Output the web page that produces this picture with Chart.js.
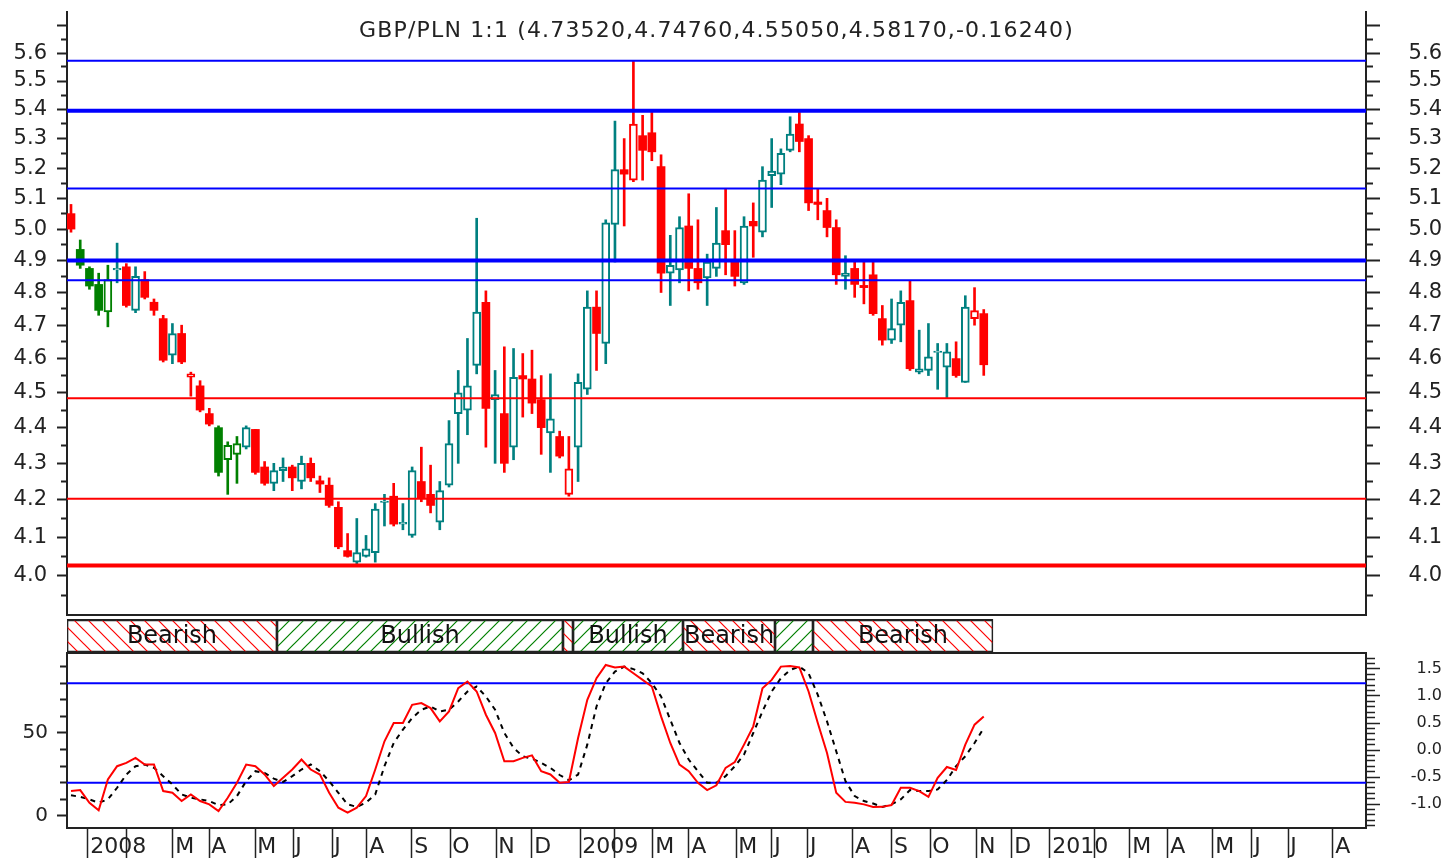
<!DOCTYPE html>
<html>
<head>
<meta charset="utf-8">
<title>GBP/PLN weekly</title>
<script src="https://cdn.jsdelivr.net/npm/chart.js@4.4.0/dist/chart.umd.min.js"></script>
<style>
  html, body { margin: 0; padding: 0; background: #fff; }
  #wrap { position: relative; width: 1447px; height: 858px; overflow: hidden; }
  canvas { position: absolute; left: 0; }
</style>
</head>
<body>
<div id="wrap">
  <canvas id="priceChart" width="1447" height="618" style="top:0"></canvas>
  <canvas id="regimeChart" width="1447" height="37" style="top:616px"></canvas>
  <canvas id="oscChart" width="1447" height="206" style="top:652px"></canvas>
</div>
<script>
// weekly candles, Jan 2008 - Nov 2009
const opens = [5.05, 4.935, 4.875, 4.825, 4.74, 4.87, 4.88, 4.745, 4.84, 4.77,
  4.72, 4.61, 4.675, 4.545, 4.52, 4.44, 4.40, 4.31, 4.325, 4.345,
  4.395, 4.29, 4.245, 4.28, 4.29, 4.25, 4.30, 4.252, 4.24, 4.18,
  4.065, 4.035, 4.05, 4.06, 4.193, 4.21, 4.135, 4.105, 4.25, 4.215,
  4.14, 4.24, 4.44, 4.45, 4.58, 4.77, 4.48, 4.44, 4.345, 4.55,
  4.54, 4.48, 4.385, 4.375, 4.215, 4.345, 4.51, 4.755, 4.645, 5.015,
  5.195, 5.16, 5.31, 5.32, 5.205, 4.86, 4.87, 5.01, 4.875, 4.845,
  4.875, 4.995, 4.895, 4.83, 5.025, 4.99, 5.175, 5.18, 5.26, 5.35,
  5.30, 5.088, 5.06, 5.005, 4.85, 4.875, 4.822, 4.855, 4.72, 4.655,
  4.70, 4.775, 4.56, 4.565, 4.618, 4.575, 4.60, 4.53, 4.72, 4.7352];
const highs = [5.08, 4.965, 4.88, 4.86, 4.885, 4.955, 4.89, 4.88, 4.865, 4.78,
  4.73, 4.705, 4.70, 4.56, 4.535, 4.455, 4.405, 4.36, 4.375, 4.405,
  4.395, 4.305, 4.30, 4.315, 4.295, 4.32, 4.315, 4.265, 4.26, 4.195,
  4.11, 4.15, 4.105, 4.19, 4.215, 4.245, 4.19, 4.29, 4.345, 4.295,
  4.25, 4.42, 4.565, 4.66, 5.035, 4.805, 4.565, 4.635, 4.63, 4.615,
  4.625, 4.55, 4.555, 4.39, 4.375, 4.555, 4.805, 4.805, 5.03, 5.36,
  5.30, 5.57, 5.38, 5.39, 5.245, 4.98, 5.04, 5.115, 5.03, 4.92,
  5.07, 5.13, 4.995, 5.04, 5.085, 5.205, 5.30, 5.265, 5.375, 5.39,
  5.31, 5.13, 5.10, 5.03, 4.915, 4.90, 4.90, 4.90, 4.76, 4.78,
  4.805, 4.835, 4.685, 4.705, 4.645, 4.645, 4.65, 4.79, 4.815, 4.7476];
const lows = [4.99, 4.875, 4.81, 4.73, 4.695, 4.83, 4.755, 4.738, 4.78, 4.73,
  4.59, 4.585, 4.585, 4.49, 4.445, 4.405, 4.265, 4.215, 4.245, 4.34,
  4.27, 4.24, 4.225, 4.25, 4.225, 4.23, 4.25, 4.22, 4.18, 4.07,
  4.048, 4.03, 4.048, 4.035, 4.13, 4.13, 4.12, 4.10, 4.195, 4.165,
  4.12, 4.235, 4.30, 4.38, 4.555, 4.345, 4.30, 4.275, 4.31, 4.43,
  4.44, 4.325, 4.275, 4.315, 4.21, 4.25, 4.495, 4.565, 4.585, 4.895,
  5.01, 5.155, 5.16, 5.225, 4.80, 4.76, 4.83, 4.805, 4.81, 4.76,
  4.85, 4.855, 4.82, 4.825, 4.91, 4.975, 5.07, 5.145, 5.255, 5.255,
  5.06, 5.03, 4.975, 4.825, 4.81, 4.785, 4.765, 4.73, 4.64, 4.645,
  4.65, 4.565, 4.555, 4.55, 4.51, 4.485, 4.545, 4.53, 4.70, 4.5505];
const closes = [5.00, 4.885, 4.82, 4.745, 4.84, 4.875, 4.76, 4.85, 4.785, 4.745,
  4.595, 4.675, 4.59, 4.555, 4.45, 4.41, 4.275, 4.35, 4.355, 4.40,
  4.275, 4.245, 4.28, 4.29, 4.26, 4.30, 4.26, 4.243, 4.185, 4.075,
  4.05, 4.06, 4.07, 4.175, 4.197, 4.135, 4.14, 4.28, 4.205, 4.185,
  4.225, 4.355, 4.50, 4.52, 4.74, 4.455, 4.495, 4.30, 4.545, 4.54,
  4.47, 4.40, 4.425, 4.32, 4.285, 4.53, 4.755, 4.675, 5.02, 5.195,
  5.18, 5.35, 5.26, 5.255, 4.86, 4.885, 5.005, 4.875, 4.83, 4.895,
  4.955, 4.95, 4.85, 5.01, 5.01, 5.16, 5.19, 5.25, 5.315, 5.29,
  5.085, 5.08, 5.005, 4.855, 4.86, 4.825, 4.815, 4.735, 4.655, 4.69,
  4.77, 4.57, 4.57, 4.605, 4.622, 4.62, 4.55, 4.755, 4.7441, 4.5817];
// R red filled, r red hollow, G green filled, g green hollow, T teal hollow
const candleKind = ('RGGGgTRTRR' + 'RTRrRRGggT' + 'RRTTRTRRRR' + 'RTTTTRTTRR' + 'TTTTTRTRTR' +
  'RRTRrTTRTT' + 'RrRRRTTRRT' + 'TRRTRTTTTR' + 'RRRRTRRRRT' + 'TRTTTTRTrR').split('');

const resistance = [5.572, 5.396, 5.132, 4.900, 4.838];
const support = [4.484, 4.203, 4.026];
const strongLevels = [5.396, 4.900, 4.026];

const stochK = [15, 15.6, 8, 3.5, 22, 30, 32, 35, 31, 31,
  15, 14, 9, 13, 9, 7, 3, 11, 20, 31,
  30, 25, 18, 23, 28, 34, 28, 25, 14, 5,
  2, 5, 12, 28, 45, 56, 56, 67, 68, 65,
  57, 63, 77, 81, 75, 61, 50, 33, 33, 35,
  36.5, 27, 25, 20, 20.5, 47, 70, 83, 91, 89.5,
  90, 86, 82, 78, 60, 44, 31, 27, 20, 15.6,
  18.5, 29, 32.5, 43, 54, 77, 82, 90, 90.4, 89.5,
  75, 56, 38, 14, 8.5, 8, 7, 5.4, 5.5, 6.6,
  17, 17, 15, 11.5, 23, 29.5, 27.7, 43, 55, 60];
const stochD = [12.5, 11.5, 10, 8, 10, 17, 25, 30, 31, 29,
  24, 19, 13, 11, 10, 9, 6.5, 7, 12, 21,
  27, 26, 22.5, 20.5, 24, 28, 31, 27, 21, 14,
  7, 5.5, 8, 13, 30, 44, 52, 59, 64, 66,
  63, 64, 69, 75, 78, 72, 64, 50, 41, 36,
  34.5, 32, 29, 24.7, 21.5, 25, 43, 66, 80, 87,
  90, 88.5, 86, 80, 72, 58, 44, 34, 27, 20,
  20, 24, 30, 37, 50, 63, 75, 83, 88, 90,
  86, 73, 57, 39, 21, 12, 9, 7.5, 5.5, 7,
  10, 15.6, 15, 15, 16, 21.7, 30, 36, 44, 53];
const oscBands = [80, 20];

const regimeStart = [-0.434, 22.34, 53.36, 54.45, 66.38, 76.36, 80.48];
const regimeEnd = [22.34, 53.36, 54.45, 66.38, 76.36, 80.48, 100.0];
const regimeTrend = ['bear', 'bull', 'bear', 'bull', 'bear', 'bull', 'bear'];
const regimeLabel = ['Bearish', 'Bullish', '', 'Bullish', 'Bearish', '', 'Bearish'];

// month starts, in weeks from the first candle
const monthPos = [1.84, 6.07, 11.06, 14.97, 19.96, 24.08, 28.31, 32.10, 36.98, 41.11, 46.10, 50.0,
  55.21, 59.0, 63.12, 67.03, 72.13, 76.03, 79.93, 84.81, 89.04, 93.17, 98.26, 102.06,
  106.18, 111.06, 114.86, 118.98, 123.86, 128.09, 132.0, 136.88];
const monthLabel = ['2008', '', 'M', 'A', 'M', 'J', 'J', 'A', 'S', 'O', 'N', 'D',
  '2009', '', 'M', 'A', 'M', 'J', 'J', 'A', 'S', 'O', 'N', 'D',
  '2010', '', 'M', 'A', 'M', 'J', 'J', 'A'];

const pairTitle = 'GBP/PLN 1:1 (4.73520,4.74760,4.55050,4.58170,-0.16240)';

// ---------------------------------------------------------------
const X_MIN = -0.434, X_MAX = 140.46;
const P_MIN = 3.9036, P_MAX = 5.750;
const axisColor = '#222';
const FONT = "'DejaVu Sans', sans-serif";

Chart.defaults.font.family = FONT;
Chart.defaults.color = axisColor;

const KIND = {
  R: { color: '#ff0000', hollow: false },
  r: { color: '#ff0000', hollow: true },
  G: { color: '#008000', hollow: false },
  g: { color: '#008000', hollow: true },
  T: { color: '#008080', hollow: true },
};
const kindColor = candleKind.map(k => KIND[k].color);

const near = (a, b) => Math.abs(a - b) < 1e-6;
const isStep = (v, step) => near(v / step, Math.round(v / step));

// fixed axis sizes so the three panels line up
const fixY = w => s => { s.width = w; s.paddingTop = 0; s.paddingBottom = 0; };
const fixX = h => s => { s.height = h; s.paddingLeft = 0; s.paddingRight = 0; };

const priceTicks = [];
for (let k = 79; k <= 114; k++) priceTicks.push(k * 5 / 100);

const noLegend = { legend: { display: false }, tooltip: { enabled: false } };

const titlePlugin = {
  id: 'pairTitle',
  afterDraw(chart) {
    const { ctx, chartArea } = chart;
    ctx.save();
    ctx.font = '22px ' + FONT;
    ctx.fillStyle = axisColor;
    ctx.textAlign = 'center';
    ctx.textBaseline = 'middle';
    const plain = ctx.measureText(pairTitle).width;
    ctx.letterSpacing = ((715 - plain) / pairTitle.length).toFixed(2) + 'px';
    ctx.fillText(pairTitle, (chartArea.left + chartArea.right) / 2, chartArea.top + 19);
    ctx.restore();
  }
};

const levelSet = (values, color) => values.map(v => ({
  type: 'line',
  data: [{ x: X_MIN, y: v }, { x: X_MAX, y: v }],
  borderColor: color,
  borderWidth: strongLevels.some(s => near(s, v)) ? 4 : 2,
  pointRadius: 0,
  order: 0,
}));

new Chart(document.getElementById('priceChart'), {
  type: 'bar',
  data: {
    datasets: [
      {
        label: 'wick',
        data: highs.map((h, i) => ({ x: i, y: [lows[i], h] })),
        backgroundColor: kindColor,
        barThickness: 2,
        grouped: false,
        order: 2,
      },
      {
        label: 'body',
        data: opens.map((o, i) => ({ x: i, y: [o, closes[i]] })),
        backgroundColor: candleKind.map(k => KIND[k].hollow ? '#ffffff' : KIND[k].color),
        borderColor: kindColor,
        borderWidth: candleKind.map(k => KIND[k].hollow ? 2 : 0),
        borderSkipped: false,
        barThickness: 8,
        grouped: false,
        order: 1,
      },
      ...levelSet(resistance, '#0000ff'),
      ...levelSet(support, '#ff0000'),
    ]
  },
  options: {
    responsive: false,
    animation: false,
    layout: { padding: { top: 12, bottom: 3, left: 0, right: 5 } },
    plugins: noLegend,
    scales: {
      x: {
        type: 'linear', min: X_MIN, max: X_MAX, offset: false,
        ticks: { display: false },
        grid: { display: false, drawTicks: false },
        border: { color: axisColor, width: 2 },
        afterFit: fixX(0),
      },
      y: {
        type: 'logarithmic', position: 'left', min: P_MIN, max: P_MAX,
        afterBuildTicks: s => { s.ticks = priceTicks.map(v => ({ value: v })); },
        afterFit: fixY(67),
        ticks: {
          autoSkip: false, padding: 10, font: { size: 21 }, color: axisColor,
          callback: v => (isStep(v, 0.1) && v > 3.99 && v < 5.61) ? v.toFixed(1) : ''
        },
        grid: {
          drawOnChartArea: false, tickLength: 10, tickWidth: 2, tickColor: axisColor,
          tickBorderDash: c => (c.tick && !isStep(c.tick.value, 0.1)) ? [0, 4, 5, 100] : []
        },
        border: { color: axisColor, width: 2 },
      },
      y1: {
        type: 'logarithmic', position: 'right', min: P_MIN, max: P_MAX,
        afterBuildTicks: s => { s.ticks = priceTicks.map(v => ({ value: v })); },
        afterFit: fixY(76),
        ticks: {
          autoSkip: false, crossAlign: 'far', font: { size: 21 }, color: axisColor,
          callback: v => (isStep(v, 0.1) && v > 3.99 && v < 5.61) ? v.toFixed(1) : ''
        },
        grid: {
          drawOnChartArea: false, tickLength: 14, tickWidth: 2, tickColor: axisColor,
          tickBorderDash: c => (c.tick && !isStep(c.tick.value, 0.1)) ? [6, 100] : []
        },
        border: { color: axisColor, width: 2 },
      }
    }
  },
  plugins: [titlePlugin]
});

// regime band with hatched fills
function hatch(color, rising) {
  const size = 14;
  const c = document.createElement('canvas');
  c.width = c.height = size;
  const g = c.getContext('2d');
  g.strokeStyle = color;
  g.lineWidth = 1.2;
  g.beginPath();
  for (let k = -1; k <= 1; k++) {
    if (rising) {
      g.moveTo(-2, size + 2 + k * size);
      g.lineTo(size + 2, -2 + k * size);
    } else {
      g.moveTo(-2, -2 - k * size);
      g.lineTo(size + 2, size + 2 - k * size);
    }
  }
  g.stroke();
  return g.createPattern(c, 'repeat');
}
const bearHatch = hatch('#ff0000', false);
const bullHatch = hatch('#008000', true);

const regimeText = {
  id: 'regimeText',
  afterDatasetsDraw(chart) {
    const { ctx } = chart;
    ctx.save();
    ctx.font = '24px ' + FONT;
    ctx.fillStyle = '#111';
    ctx.textAlign = 'center';
    ctx.textBaseline = 'middle';
    chart.getDatasetMeta(0).data.forEach((bar, i) => {
      if (regimeLabel[i]) ctx.fillText(regimeLabel[i], (bar.x + bar.base) / 2, bar.y + 1);
    });
    ctx.restore();
  }
};

new Chart(document.getElementById('regimeChart'), {
  type: 'bar',
  data: {
    labels: ['regime'],
    datasets: [{
      data: regimeStart.map((s, i) => ({ x: [s, regimeEnd[i]], y: 'regime' })),
      backgroundColor: regimeTrend.map(t => t === 'bear' ? bearHatch : bullHatch),
      borderColor: axisColor,
      borderWidth: { top: 2, bottom: 2, left: 1, right: 1 },
      borderSkipped: false,
      barPercentage: 1,
      categoryPercentage: 1,
      grouped: false,
    }]
  },
  options: {
    indexAxis: 'y',
    responsive: false,
    animation: false,
    layout: { padding: { left: 67, right: 81, top: 3, bottom: 0 } },
    plugins: noLegend,
    scales: {
      x: { type: 'linear', min: X_MIN, max: X_MAX, display: false },
      y: { display: false }
    }
  },
  plugins: [regimeText]
});

// stochastic panel
const oscTicks = [0, 10, 20, 30, 40, 50, 60, 70, 80, 90];
const rightTicks = [];
for (let k = -14; k <= 17; k++) rightTicks.push(k / 10);

new Chart(document.getElementById('oscChart'), {
  type: 'line',
  data: {
    datasets: [
      { data: stochK.map((v, i) => ({ x: i, y: v })), borderColor: '#ff0000', borderWidth: 2, pointRadius: 0, order: 1 },
      { data: stochD.map((v, i) => ({ x: i, y: v })), borderColor: '#000000', borderWidth: 2, borderDash: [5, 5], pointRadius: 0, order: 2 },
      ...oscBands.map(v => ({
        data: [{ x: X_MIN, y: v }, { x: X_MAX, y: v }],
        borderColor: '#0000ff', borderWidth: 2, pointRadius: 0, order: 3
      })),
    ]
  },
  options: {
    responsive: false,
    animation: false,
    layout: { padding: { top: 1, bottom: 0, left: 0, right: 5 } },
    plugins: noLegend,
    scales: {
      x: {
        type: 'linear', position: 'bottom', min: X_MIN, max: X_MAX,
        afterBuildTicks: s => { s.ticks = monthPos.map(v => ({ value: v })); },
        afterFit: fixX(30),
        ticks: {
          autoSkip: false, maxRotation: 0, minRotation: 0, align: 'start', padding: -24,
          font: { size: 22 }, color: axisColor,
          callback: (v, i) => monthLabel[i] ? '\u200A' + monthLabel[i] : ''
        },
        grid: { drawOnChartArea: false, tickLength: 30, tickWidth: 1.5, tickColor: axisColor },
        border: { color: axisColor, width: 2 },
      },
      xTop: {
        type: 'linear', position: 'top', min: X_MIN, max: X_MAX,
        ticks: { display: false },
        grid: { display: false, drawTicks: false },
        border: { color: axisColor, width: 2 },
        afterFit: fixX(0),
      },
      y: {
        type: 'linear', position: 'left', min: -7.23, max: 98.19,
        afterBuildTicks: s => { s.ticks = oscTicks.map(v => ({ value: v })); },
        afterFit: fixY(67),
        ticks: {
          autoSkip: false, padding: 9, font: { size: 20 }, color: axisColor,
          callback: v => (v === 0 || v === 50) ? String(v) : ''
        },
        grid: {
          drawOnChartArea: false, tickLength: 10, tickWidth: 2, tickColor: axisColor,
          tickBorderDash: c => (c.tick && c.tick.value % 50 !== 0) ? [0, 3, 6, 100] : []
        },
        border: { color: axisColor, width: 2 },
      },
      y2: {
        type: 'linear', position: 'right', min: -1.444, max: 1.796,
        afterBuildTicks: s => { s.ticks = rightTicks.map(v => ({ value: v })); },
        afterFit: fixY(76),
        ticks: {
          autoSkip: false, crossAlign: 'far', font: { size: 16 }, color: axisColor,
          callback: v => (isStep(v, 0.5) && v > -1.01 && v < 1.51) ? v.toFixed(1) : ''
        },
        grid: {
          drawOnChartArea: false, tickLength: 14, tickWidth: 1.5, tickColor: axisColor,
          tickBorderDash: c => (c.tick && !isStep(c.tick.value, 0.5)) ? [8, 100] : []
        },
        border: { color: axisColor, width: 2 },
      }
    }
  }
});
</script>
</body>
</html>
